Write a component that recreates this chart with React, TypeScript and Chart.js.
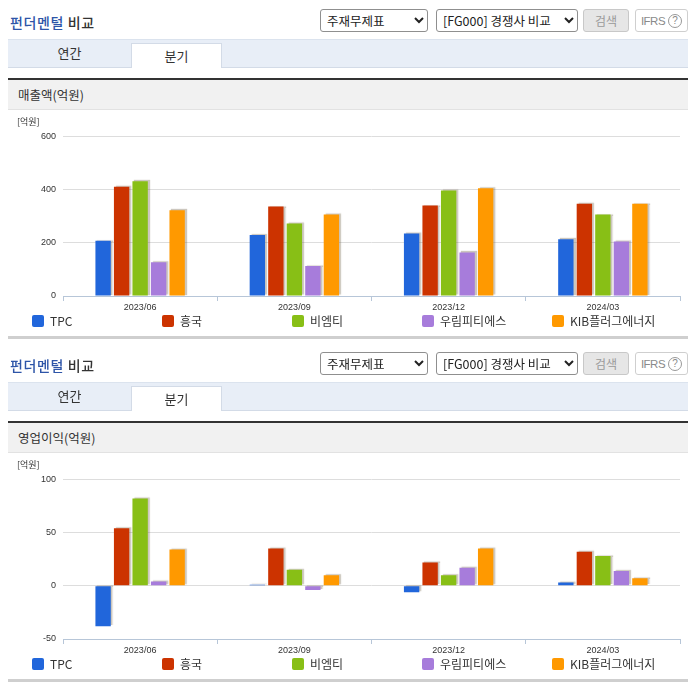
import { useEffect, useRef } from 'react';
import { Chart, registerables } from 'chart.js';

Chart.register(...registerables);

const quarters = ['2023/06', '2023/09', '2023/12', '2024/03'];
const companies = ['TPC', '흥국', '비엠티', '우림피티에스', 'KIB플러그에너지'];
const colors = ['#2166db', '#cc3300', '#88bf16', '#a77cdb', '#ff9900'];

// 매출액 (억원)
const salesTPC = [208, 229, 235, 213];
const salesHeungkuk = [411, 336, 340, 347];
const salesBMT = [431, 273, 397, 306];
const salesWoorim = [127, 113, 164, 205];
const salesKIB = [322, 306, 405, 347];

// 영업이익 (억원)
const opTPC = [-38, 1, -6, 3];
const opHeungkuk = [54, 35, 22, 32];
const opBMT = [82, 15, 10, 28];
const opWoorim = [4, -4, 17, 14];
const opKIB = [34, 10, 35, 7];

const salesSeries = [salesTPC, salesHeungkuk, salesBMT, salesWoorim, salesKIB];
const opSeries = [opTPC, opHeungkuk, opBMT, opWoorim, opKIB];

const KR = "'Noto Sans CJK KR', sans-serif";
const TICK_FONT = "'Liberation Sans', Arial, sans-serif";

const barShadow = {
  id: 'barShadow',
  beforeDatasetDraw(chart: Chart) {
    const c = chart.ctx;
    c.save();
    c.shadowColor = 'rgba(110,95,70,0.35)';
    c.shadowOffsetX = 2;
    c.shadowOffsetY = -1;
    c.shadowBlur = 1;
  },
  afterDatasetDraw(chart: Chart) {
    chart.ctx.restore();
  },
};

interface BarPanelProps {
  series: number[][];
  min: number;
  max: number;
  step: number;
}

function BarPanel({ series, min, max, step }: BarPanelProps) {
  const ref = useRef<HTMLCanvasElement | null>(null);

  useEffect(() => {
    if (!ref.current) return;
    const chart = new Chart(ref.current, {
      type: 'bar',
      data: {
        labels: quarters,
        datasets: series.map((values, i) => ({
          label: companies[i],
          data: values,
          backgroundColor: colors[i],
          borderWidth: 0,
          categoryPercentage: 0.6,
          barPercentage: 0.83,
        })),
      },
      options: {
        animation: false,
        responsive: false,
        layout: { padding: { top: 8, right: 8, left: 0, bottom: 0 } },
        plugins: {
          legend: { display: false },
          tooltip: { enabled: false },
        },
        scales: {
          x: {
            grid: {
              display: true,
              drawOnChartArea: false,
              offset: true,
              tickLength: 5,
              color: '#b7c6d8',
            },
            border: { color: '#b7c6d8' },
            ticks: {
              color: '#333',
              padding: 1,
              maxRotation: 0,
              font: { size: 9, family: TICK_FONT },
            },
            afterFit: (s: any) => {
              s.height = 18;
            },
          },
          y: {
            min,
            max,
            ticks: {
              stepSize: step,
              color: '#333',
              padding: 7,
              font: { size: 9, family: TICK_FONT },
            },
            grid: {
              drawTicks: false,
              color: (ctx: any) =>
                ctx.tick && ctx.tick.value === min ? 'rgba(0,0,0,0)' : '#dddddd',
            },
            border: { display: false },
            afterFit: (s: any) => {
              s.width = 55;
            },
          },
        },
      },
      plugins: [barShadow],
    });
    return () => chart.destroy();
  }, [series, min, max, step]);

  return <canvas ref={ref} width={680} height={190} style={{ display: 'block' }} />;
}

const abs = (style: React.CSSProperties): React.CSSProperties => ({
  position: 'absolute',
  boxSizing: 'border-box',
  ...style,
});

function Panel({
  metric,
  series,
  min,
  max,
  step,
}: BarPanelProps & { metric: string }) {
  return (
    <div style={{ position: 'relative', width: 680, height: 343, fontFamily: KR, color: '#333' }}>
      <div style={abs({ left: 2, top: 4, fontSize: 14, lineHeight: '20px', letterSpacing: 0.6, fontWeight: 500 })}>
        <span style={{ color: '#2e55a8' }}>펀더멘털</span> 비교
      </div>
      <select
        defaultValue="a"
        style={abs({ left: 312, top: 1, width: 108, height: 23, fontSize: 12.5, fontFamily: KR, border: '1px solid #8f8f8f', borderRadius: 3, background: '#fff', color: '#222', padding: '0 2px' })}
      >
        <option value="a">주재무제표</option>
      </select>
      <select
        defaultValue="b"
        style={abs({ left: 428, top: 1, width: 142, height: 23, fontSize: 12.5, fontFamily: KR, border: '1px solid #8f8f8f', borderRadius: 3, background: '#fff', color: '#222', padding: '0 2px' })}
      >
        <option value="b">[FG000] 경쟁사 비교</option>
      </select>
      <div
        style={abs({ left: 575, top: 1, width: 46, height: 23, border: '1px solid #c8c8c8', borderRadius: 3, background: '#e6e6e6', color: '#9a9a9a', fontSize: 12, lineHeight: '21px', textAlign: 'center' })}
      >
        검색
      </div>
      <div
        style={abs({ left: 627, top: 1, width: 53, height: 23, border: '1px solid #cfcfcf', borderRadius: 3, background: '#fff', color: '#8a8a8a', fontSize: 11.5, fontFamily: TICK_FONT, letterSpacing: -0.5, display: 'flex', alignItems: 'center', justifyContent: 'center', gap: 3 })}
      >
        <span>IFRS</span>
        <span style={{ display: 'flex', alignItems: 'center', justifyContent: 'center', width: 14, height: 14, border: '1px solid #999', borderRadius: '50%', fontSize: 10, boxSizing: 'border-box', letterSpacing: 0 }}>?</span>
      </div>

      <div style={abs({ left: 0, top: 31, width: 680, height: 29, background: '#e8eef7', borderTop: '1px solid #dbe3ee', borderBottom: '1px solid #d3dbe7' })} />
      <div style={abs({ left: 0, top: 31, width: 123, height: 29, fontSize: 13, lineHeight: '28px', textAlign: 'center' })}>연간</div>
      <div
        style={abs({ left: 123, top: 35, width: 91, height: 25, background: '#fff', border: '1px solid #d3dbe7', borderBottom: 'none', fontSize: 13, lineHeight: '24px', textAlign: 'center' })}
      >
        분기
      </div>

      <div style={abs({ left: 0, top: 70, width: 680, height: 2, background: '#333' })} />
      <div
        style={abs({ left: 0, top: 72, width: 680, height: 30, background: '#f1f1f1', borderBottom: '1px solid #e2e2e2', fontSize: 12.5, lineHeight: '29px', paddingLeft: 10 })}
      >
        {metric}
      </div>

      <div style={abs({ left: 0, top: 116, width: 680, height: 190 })}>
        <BarPanel series={series} min={min} max={max} step={step} />
      </div>
      <div style={abs({ left: 9, top: 109, fontSize: 9, lineHeight: '10px', color: '#333' })}>[억원]</div>

      {companies.map((name, i) => (
        <div key={name} style={abs({ left: 24 + i * 130, top: 306, height: 14, fontSize: 12, lineHeight: '14px', whiteSpace: 'nowrap' })}>
          <span style={{ display: 'inline-block', width: 12, height: 12, background: colors[i], borderRadius: 2, verticalAlign: -1, marginRight: 6 }} />
          {name}
        </div>
      ))}

      <div style={abs({ left: 0, top: 328, width: 680, height: 2.5, background: '#cfcfcf' })} />
    </div>
  );
}

export default function App() {
  return (
    <div style={{ width: 680 }}>
      <Panel metric="매출액(억원)" series={salesSeries} min={0} max={600} step={200} />
      <Panel metric="영업이익(억원)" series={opSeries} min={-50} max={100} step={50} />
    </div>
  );
}
